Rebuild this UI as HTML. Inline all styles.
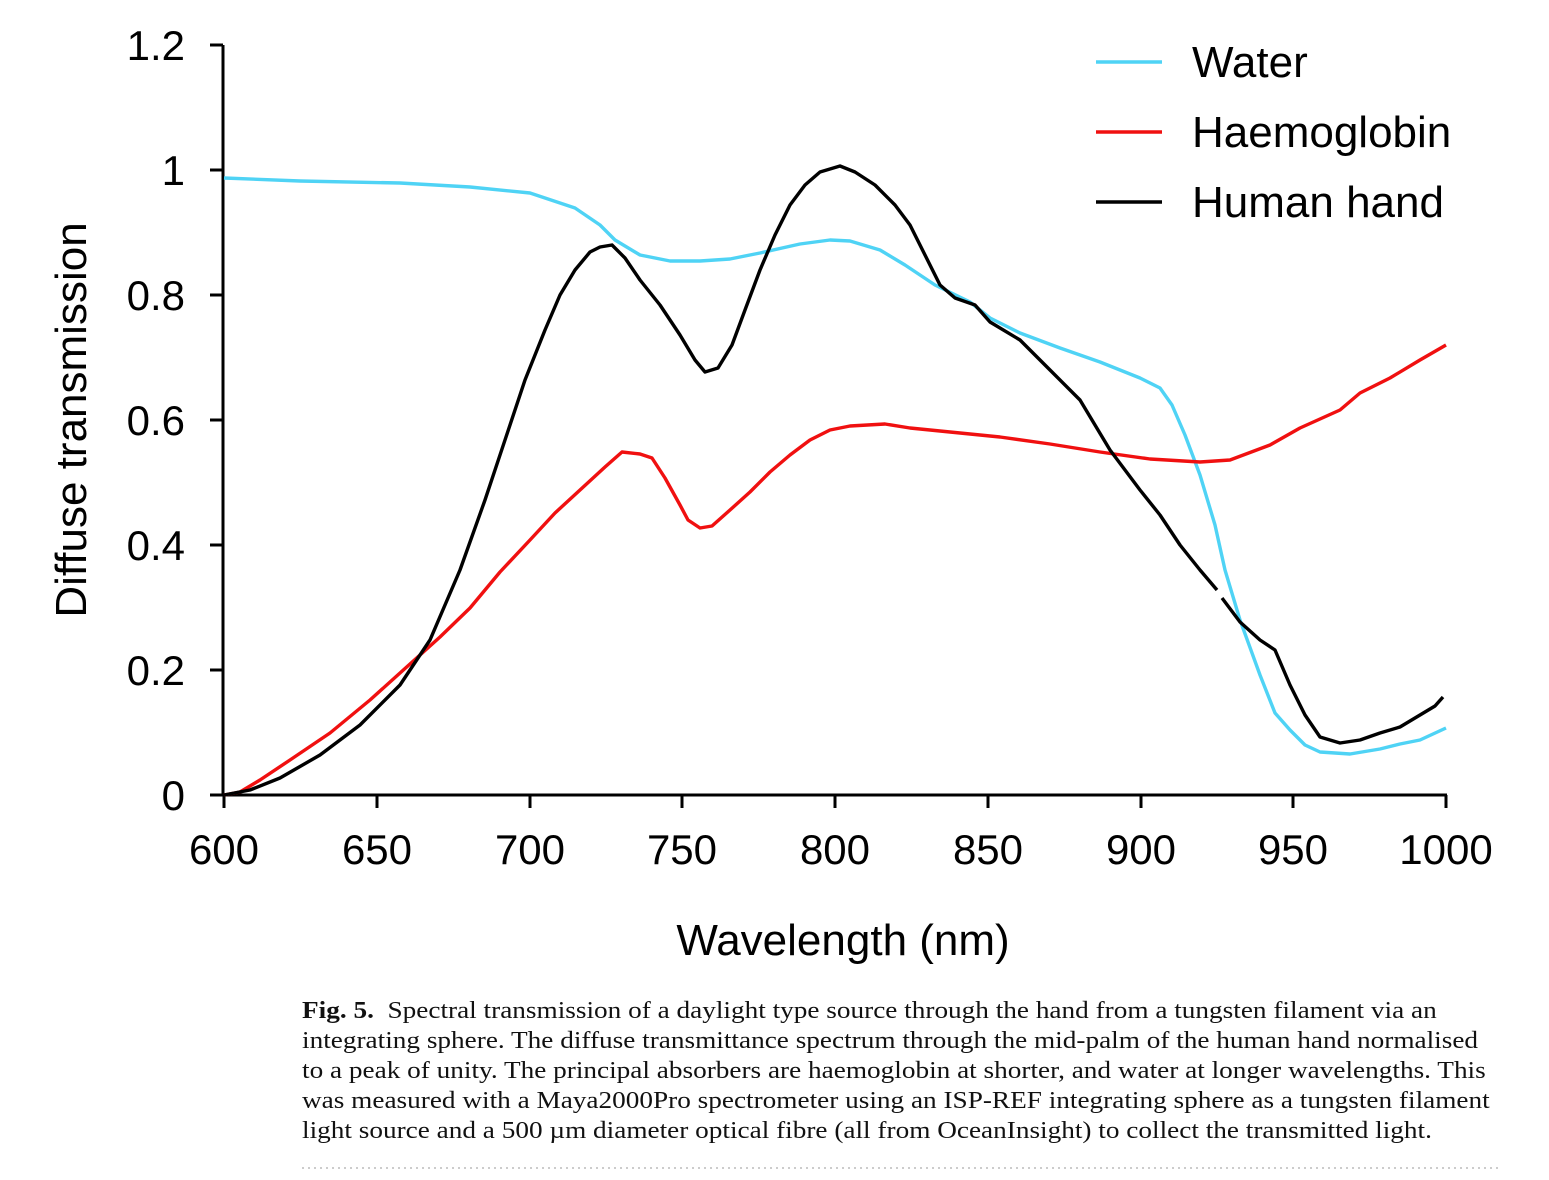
<!DOCTYPE html>
<html><head><meta charset="utf-8"><style>
body{margin:0;background:#fff;width:1549px;height:1180px;overflow:hidden;position:relative}
svg{position:absolute;left:0;top:0}
.cap{position:absolute;left:302px;top:996px;white-space:nowrap;font-family:"Liberation Serif",serif;font-size:24px;line-height:30px;color:#111;transform:scaleX(1.135);transform-origin:0 0}
</style></head><body>
<svg width="1549" height="1180" viewBox="0 0 1549 1180" font-family="Liberation Sans, sans-serif">
<g stroke="#000" stroke-width="3" fill="none">
<line x1="223" y1="45" x2="223" y2="796"/>
<line x1="222" y1="795" x2="1447" y2="795"/>
<line x1="210" y1="45" x2="223" y2="45"/><line x1="210" y1="170" x2="223" y2="170"/><line x1="210" y1="295" x2="223" y2="295"/><line x1="210" y1="420" x2="223" y2="420"/><line x1="210" y1="545" x2="223" y2="545"/><line x1="210" y1="670" x2="223" y2="670"/><line x1="210" y1="795" x2="223" y2="795"/>
<line x1="224" y1="795" x2="224" y2="808"/><line x1="377" y1="795" x2="377" y2="808"/><line x1="530" y1="795" x2="530" y2="808"/><line x1="682" y1="795" x2="682" y2="808"/><line x1="835" y1="795" x2="835" y2="808"/><line x1="988" y1="795" x2="988" y2="808"/><line x1="1141" y1="795" x2="1141" y2="808"/><line x1="1293" y1="795" x2="1293" y2="808"/><line x1="1446" y1="795" x2="1446" y2="808"/>
</g>
<g font-size="42" text-anchor="end" fill="#000">
<text x="185" y="60">1.2</text><text x="185" y="185">1</text><text x="185" y="310">0.8</text><text x="185" y="435">0.6</text><text x="185" y="560">0.4</text><text x="185" y="685">0.2</text><text x="185" y="810">0</text>
</g>
<g font-size="42" text-anchor="middle" fill="#000">
<text x="224" y="864">600</text><text x="377" y="864">650</text><text x="530" y="864">700</text><text x="682" y="864">750</text><text x="835" y="864">800</text><text x="988" y="864">850</text><text x="1141" y="864">900</text><text x="1293" y="864">950</text><text x="1446" y="864">1000</text>
<text x="843" y="955" font-size="44">Wavelength (nm)</text>
<text transform="translate(86,420) rotate(-90)" font-size="44">Diffuse transmission</text>
</g>
<g fill="none" stroke-width="3.4" stroke-linejoin="round">
<polyline stroke="#4fd3f5" points="224,178 300,181 400,183 470,187 530,193 575,208 600,225 615,240 640,255 670,261 700,261 730,259 760,253 800,244 830,240 850,241 880,250 905,265 935,285 970,302 990,318 1020,333 1060,348 1100,362 1140,378 1160,388 1172,405 1185,435 1200,475 1215,525 1225,570 1240,620 1260,675 1275,713 1290,730 1305,745 1320,752 1350,754 1380,749 1400,744 1420,740 1446,728"/>
<polyline stroke="#f01010" points="224,795 240,792 260,780 290,760 330,733 370,700 410,664 440,637 470,608 500,572 530,540 555,513 580,490 605,467 622,452 640,454 652,458 665,478 680,505 688,520 700,528 712,526 730,510 750,492 770,472 790,455 810,440 830,430 850,426 885,424 910,428 950,432 1000,437 1050,444 1100,452 1150,459 1200,462 1230,460 1270,445 1300,428 1340,410 1360,393 1390,378 1420,360 1446,345"/>
<polyline stroke="#000" points="224,795 250,790 280,778 320,755 360,725 400,685 430,640 460,570 485,500 505,440 525,380 545,330 560,295 575,270 590,252 600,247 612,245 625,258 640,280 660,305 680,335 695,360 705,372 718,368 732,345 745,310 760,270 775,235 790,205 805,185 820,172 840,166 855,172 875,185 895,205 910,225 925,255 940,285 955,298 975,305 990,322 1020,340 1050,370 1080,400 1110,450 1140,490 1160,515 1180,545 1200,570 1217,590"/>
<polyline stroke="#000" points="1222,598 1240,622 1260,640 1275,650 1290,685 1305,715 1320,737 1340,743 1360,740 1380,733 1400,727 1420,715 1435,706 1443,697"/>
<line x1="1096" y1="62" x2="1162" y2="62" stroke="#4fd3f5"/>
<line x1="1096" y1="132" x2="1162" y2="132" stroke="#f01010"/>
<line x1="1096" y1="202" x2="1162" y2="202" stroke="#000"/>
</g>
<g font-size="44" fill="#000">
<text x="1192" y="77">Water</text><text x="1192" y="147">Haemoglobin</text><text x="1192" y="217">Human hand</text>
</g>
<line x1="302" y1="1168" x2="1498" y2="1168" stroke="#bbb" stroke-width="1.5" stroke-dasharray="2,4"/>
</svg>
<div class="cap"><b>Fig. 5.</b>&nbsp; Spectral transmission of a daylight type source through the hand from a tungsten filament via an<br>integrating sphere. The diffuse transmittance spectrum through the mid-palm of the human hand normalised<br>to a peak of unity. The principal absorbers are haemoglobin at shorter, and water at longer wavelengths. This<br>was measured with a Maya2000Pro spectrometer using an ISP-REF integrating sphere as a tungsten filament<br>light source and a 500 µm diameter optical fibre (all from OceanInsight) to collect the transmitted light.</div>
</body></html>
